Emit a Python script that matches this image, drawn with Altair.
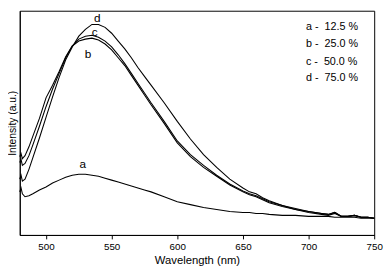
import altair as alt
import pandas as pd

# Shared wavelength grid (nm)
wavelength = [480, 481, 482, 484, 487, 490, 495, 500, 505, 510, 515, 520, 525, 530, 535,
              540, 545, 550, 555, 560, 565, 570, 575, 580, 590, 600, 610, 620, 630, 640,
              650, 655, 660, 665, 670, 680, 690, 700, 710, 715, 720, 725, 730, 735, 740,
              745, 750]

# Intensities (a.u.)
curve_a = [44, 48, 42, 39, 40, 42, 46, 49, 53, 56, 59, 61, 62, 62, 61, 60, 58, 56, 54, 52,
           50, 48, 46, 44, 39, 34, 31, 28, 26, 24, 23, 23, 22, 22, 21, 20, 20, 19, 19, 19,
           18, 18, 18, 18, 17, 17, 17]
curve_b = [80, 83, 78, 81, 90, 101, 119, 140, 153, 167, 182, 193, 198, 200, 201, 199, 195,
           189, 181, 173, 163, 153, 143, 133, 114, 94, 80, 69, 60, 51, 44, 41, 39, 36, 33,
           29, 26, 23, 21, 20, 22, 19, 19, 20, 18, 18, 17]
curve_c = [74, 77, 71, 73, 81, 92, 111, 131, 149, 165, 181, 193, 200, 203, 204, 202, 198,
           192, 184, 175, 165, 155, 145, 135, 116, 96, 82, 71, 61, 52, 45, 42, 40, 37, 34,
           30, 26, 24, 22, 21, 23, 19, 19, 20, 18, 18, 17]
curve_d = [57, 61, 55, 57, 67, 79, 99, 120, 141, 161, 179, 192, 203, 210, 215, 215, 212,
           206, 198, 190, 181, 171, 162, 153, 135, 116, 98, 82, 69, 57, 48, 44, 42, 38, 35,
           30, 27, 24, 22, 21, 23, 19, 19, 20, 18, 18, 17]

series_names = ["a", "b", "c", "d"]
series_values = [curve_a, curve_b, curve_c, curve_d]

# Curve tags placed near peaks
tag_text = ["a", "b", "c", "d"]
tag_x = [528, 532, 537, 539]
tag_y = [72, 185, 207, 222]

# Legend text block
NB = "\u00a0"
legend_text = ["a -" + NB * 2 + "12.5 %", "b -" + NB * 2 + "25.0 %",
               "c -" + NB * 2 + "50.0 %", "d -" + NB * 2 + "75.0 %"]
legend_x = [698, 698, 698, 698]
legend_y = [212, 195, 177, 160]

rows = []
for name, vals in zip(series_names, series_values):
    for w, v in zip(wavelength, vals):
        rows.append({"wavelength": w, "intensity": v, "curve": name})
df = pd.DataFrame(rows)
tags = pd.DataFrame({"x": tag_x, "y": tag_y, "t": tag_text})
leg = pd.DataFrame({"x": legend_x, "y": legend_y, "t": legend_text})

FONT = "Liberation Sans"

xscale = alt.Scale(domain=[480, 750], nice=False, zero=False)
yscale = alt.Scale(domain=[0, 229], nice=False, zero=True)

xaxis = alt.Axis(
    title="Wavelength (nm)",
    values=list(range(500, 751, 25)),
    labelExpr="datum.value % 50 == 0 ? datum.label : ''",
    grid=False, tickSize=4, tickColor="black", domainColor="black",
    labelFont=FONT, labelFontSize=10, labelColor="black", labelPadding=3,
    labelFlush=False, labelOverlap=False,
    titleFont=FONT, titleFontSize=11.5, titleFontWeight="normal", titleColor="black",
    titlePadding=3,
)
yaxis = alt.Axis(
    title="Intensity (a.u.)", labels=False, ticks=False, grid=False,
    domainColor="black",
    titleFont=FONT, titleFontSize=10.5, titleFontWeight="normal", titleColor="black",
    titleX=-2, titleY=114.5, titleAlign="center", titleBaseline="bottom", titleAngle=-90,
)

lines = alt.Chart(df).mark_line(color="black", strokeWidth=1.1).encode(
    x=alt.X("wavelength:Q", scale=xscale, axis=xaxis),
    y=alt.Y("intensity:Q", scale=yscale, axis=yaxis),
    detail="curve:N",
)

tag_layer = alt.Chart(tags).mark_text(font=FONT, fontSize=12, color="black", fill="black").encode(
    x=alt.X("x:Q", scale=xscale), y=alt.Y("y:Q", scale=yscale), text="t:N"
)

leg_layer = alt.Chart(leg).mark_text(font=FONT, fontSize=11, color="black", fill="black",
                                     align="left").encode(
    x=alt.X("x:Q", scale=xscale), y=alt.Y("y:Q", scale=yscale), text="t:N"
)

chart = alt.layer(lines, tag_layer, leg_layer).properties(
    width=362, height=229,
    autosize=alt.AutoSizeParams(type="none"),
    padding={"left": 12, "top": 0, "right": 10, "bottom": 33},
).configure_view(stroke="black", strokeWidth=1)

chart.save("out.html", embed_options={"renderer": "svg", "actions": False})
